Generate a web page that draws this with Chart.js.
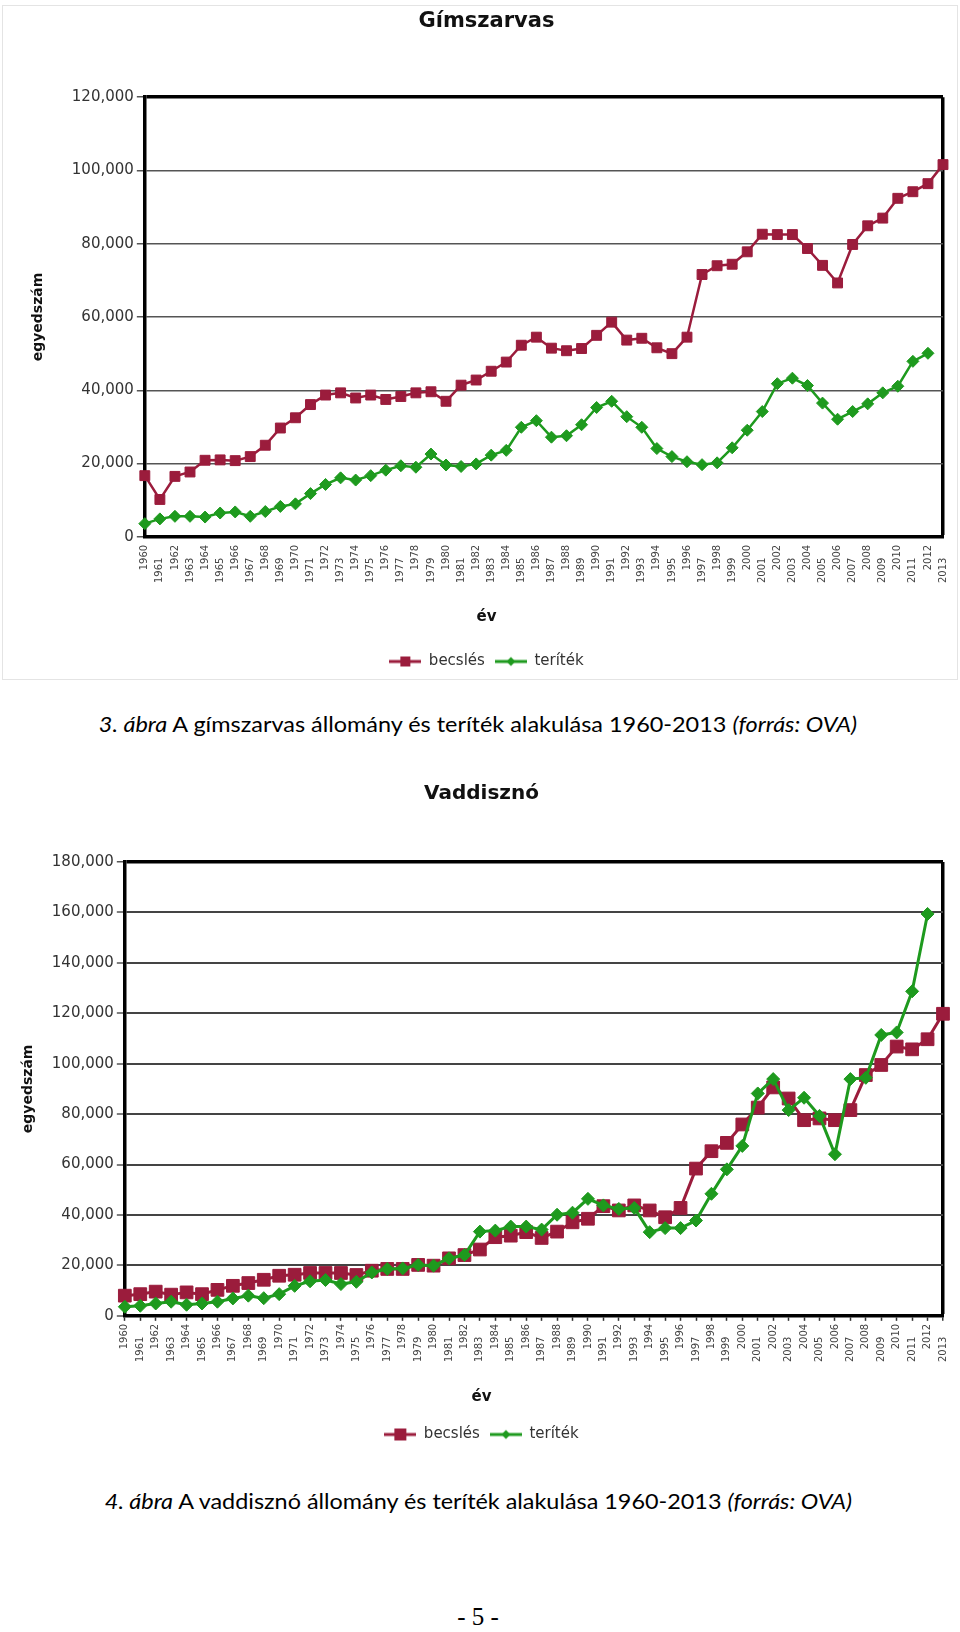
<!DOCTYPE html>
<html lang="hu">
<head>
<meta charset="utf-8">
<title>Gímszarvas és vaddisznó állomány 1960-2013</title>
<script src="https://cdn.jsdelivr.net/npm/chart.js@4.4.1/dist/chart.umd.min.js"></script>
<style>
    html, body {
        margin: 0;
        padding: 0;
        background: #fff;
    }
    body {
        width: 960px;
        height: 1632px;
        position: relative;
        overflow: hidden;
    }
    .frame {
        position: absolute;
        left: 2px;
        top: 5px;
        width: 954px;
        height: 673px;
        border: 1px solid #e4e4e4;
    }
    canvas {
        position: absolute;
    }
    #deerChart { left: 30px; top: 0; }
    #boarChart { left: 20px; top: 760px; }
    .caption {
        position: absolute;
        left: 0;
        width: 956px;
        text-align: center;
        font-family: Lato, "Open Sans", sans-serif;
        font-size: 22px;
        line-height: 30px;
        color: #000;
        white-space: nowrap;
    }
    .caption span {
        display: inline-block;
        transform-origin: center;
    }
    .page-number {
        position: absolute;
        left: 0;
        width: 956px;
        top: 1602px;
        text-align: center;
        font-family: "Liberation Serif", serif;
        font-size: 25px;
        line-height: 30px;
    }
</style>
</head>
<body>
<div class="frame"></div>
<canvas id="deerChart" width="930" height="679"></canvas>
<div class="caption" style="top: 709px;"><span id="caption1"><i>3. ábra</i> A gímszarvas állomány és teríték alakulása 1960-2013 <i>(forrás: OVA)</i></span></div>

<canvas id="boarChart" width="966" height="692"></canvas>
<div class="caption" style="top: 1486px;"><span id="caption2"><i>4. ábra</i> A vaddisznó állomány és teríték alakulása 1960-2013 <i>(forrás: OVA)</i></span></div>

<div class="page-number">- 5 -</div>

<script>
// ===== Data =====
const years = [
    '1960', '1961', '1962', '1963', '1964', '1965', '1966', '1967', '1968', '1969',
    '1970', '1971', '1972', '1973', '1974', '1975', '1976', '1977', '1978', '1979',
    '1980', '1981', '1982', '1983', '1984', '1985', '1986', '1987', '1988', '1989',
    '1990', '1991', '1992', '1993', '1994', '1995', '1996', '1997', '1998', '1999',
    '2000', '2001', '2002', '2003', '2004', '2005', '2006', '2007', '2008', '2009',
    '2010', '2011', '2012', '2013'
];

// Gímszarvas
const deerEstimate = [
    16700, 10200, 16500, 17700, 20900, 21000, 20800, 21900, 25000, 29700,
    32500, 36100, 38700, 39300, 37900, 38700, 37500, 38300, 39300, 39600,
    37000, 41400, 42800, 45200, 47700, 52300, 54500, 51500, 50800, 51400,
    55000, 58600, 53700, 54200, 51600, 50000, 54500, 71600, 74000, 74400,
    77800, 82600, 82500, 82500, 78700, 74100, 69300, 79800, 84900, 87000,
    92400, 94200, 96400, 101600
];
const deerHarvest = [
    3600, 4900, 5600, 5600, 5400, 6500, 6800, 5600, 6900, 8300,
    9000, 11800, 14300, 16100, 15500, 16700, 18200, 19400, 19000, 22600,
    19600, 19200, 19900, 22300, 23600, 29900, 31700, 27200, 27600, 30600,
    35300, 37000, 32800, 29900, 24100, 21900, 20500, 19700, 20200, 24300,
    29100, 34200, 41800, 43300, 41300, 36500, 32100, 34200, 36300, 39300,
    41100, 47900, 50100, null
];

// Vaddisznó
const boarEstimate = [
    8000, 8600, 9600, 8400, 9300, 8600, 10300, 11900, 13000, 14300,
    15900, 16300, 17000, 17000, 17000, 16200, 17900, 18600, 18600, 20200,
    19900, 22800, 24100, 26300, 31200, 31800, 33200, 30900, 33400, 37100,
    38500, 43500, 41800, 43800, 41800, 39100, 42800, 58400, 65300, 68600,
    75900, 82600, 90600, 86200, 77600, 78300, 77600, 81600, 95500, 99500,
    106800, 105700, 109700, 119800
];
const boarHarvest = [
    3600, 4000, 4900, 5600, 4400, 4900, 5600, 6900, 8000, 7000,
    8600, 11900, 13700, 14200, 12600, 13500, 17200, 18600, 18800, 20200,
    19900, 22800, 24100, 33400, 33800, 35400, 35400, 34200, 40100, 40900,
    46400, 43800, 42400, 42800, 33200, 34800, 34800, 37800, 48400, 58100,
    67400, 88200, 93900, 81600, 86500, 79300, 64100, 93900, 94400, 111400,
    112400, 128700, 159400, null
];

const seriesNames = ['becslés', 'teríték'];

// ===== Styles =====
const MAROON = '#9b1c3c';
const GREEN = '#1e9a1e';

Chart.defaults.font.family = '"DejaVu Sans", Arial, sans-serif';
Chart.defaults.color = '#333';

// Small line + marker pictures for the legend
function makeLegendIcon(color, shape, size) {
    const c = document.createElement('canvas');
    c.width = 32;
    c.height = 14;
    const g = c.getContext('2d');
    g.strokeStyle = color;
    g.lineWidth = 3;
    g.beginPath();
    g.moveTo(0, 7);
    g.lineTo(32, 7);
    g.stroke();
    g.fillStyle = color;
    if (shape === 'rect') {
        g.fillRect(16 - size / 2, 7 - size / 2, size, size);
    } else {
        g.beginPath();
        g.moveTo(16, 7 - size / 2);
        g.lineTo(16 + size / 2, 7);
        g.lineTo(16, 7 + size / 2);
        g.lineTo(16 - size / 2, 7);
        g.closePath();
        g.fill();
    }
    return c;
}

// Odd years sit lower, like the staggered labels of the original
function staggerLabel(value, index) {
    const label = this.getLabelForValue(value);
    return index % 2 ? label + '    ' : label;
}

function formatThousands(value) {
    return value.toLocaleString('en-US');
}

function buildChart(canvasId, opts) {
    const last = years.length - 1;
    const icons = [
        makeLegendIcon(MAROON, 'rect', opts.legendSquare),
        makeLegendIcon(GREEN, 'diamond', opts.legendDiamond)
    ];

    return new Chart(document.getElementById(canvasId), {
        type: 'line',
        data: {
            labels: years,
            datasets: [{
                label: seriesNames[0],
                data: opts.estimate,
                borderColor: MAROON,
                backgroundColor: MAROON,
                borderWidth: opts.lineWidth,
                pointStyle: 'rect',
                pointRadius: opts.squareRadius,
                pointBorderWidth: 1,
                pointBorderColor: MAROON,
                pointBackgroundColor: MAROON,
                tension: 0,
                clip: false,
                order: 1
            }, {
                label: seriesNames[1],
                data: opts.harvest,
                borderColor: GREEN,
                backgroundColor: GREEN,
                borderWidth: opts.lineWidth,
                pointStyle: 'rectRot',
                pointRadius: opts.diamondRadius,
                pointBorderWidth: 1,
                pointBorderColor: GREEN,
                pointBackgroundColor: GREEN,
                tension: 0,
                clip: false,
                spanGaps: false,
                order: 0
            }]
        },
        options: {
            responsive: false,
            animation: false,
            events: [],
            layout: {
                padding: { left: 0, right: opts.padRight, top: 0, bottom: 0 }
            },
            plugins: {
                title: {
                    display: true,
                    text: opts.title,
                    color: '#111',
                    font: { size: opts.titleSize, weight: 'bold' },
                    padding: opts.titlePadding
                },
                subtitle: {
                    display: true,
                    position: 'bottom',
                    text: 'év',
                    weight: 500,
                    color: '#111',
                    font: { size: 15, weight: 'bold' },
                    padding: opts.xTitlePadding
                },
                legend: {
                    position: 'bottom',
                    labels: {
                        usePointStyle: true,
                        pointStyleWidth: 32,
                        color: '#333',
                        font: { size: 15 },
                        padding: 10,
                        sort: (a, b) => a.datasetIndex - b.datasetIndex,
                        generateLabels: chart => {
                            const items = Chart.defaults.plugins.legend.labels.generateLabels(chart);
                            items.forEach(item => { item.pointStyle = icons[item.datasetIndex]; });
                            return items;
                        }
                    }
                },
                tooltip: { enabled: false }
            },
            scales: {
                x: {
                    offset: false,
                    border: { color: '#000', width: 3.5 },
                    grid: {
                        color: ctx => ctx.index === last ? '#000' : 'rgba(0,0,0,0)',
                        lineWidth: ctx => ctx.index === last ? 3.5 : 1,
                        tickLength: 5,
                        tickColor: opts.xTickColor,
                        tickWidth: 1.5
                    },
                    ticks: {
                        autoSkip: false,
                        maxRotation: 90,
                        minRotation: 90,
                        padding: 3,
                        color: '#444',
                        font: { size: 10 },
                        callback: staggerLabel
                    }
                },
                y: {
                    min: 0,
                    max: opts.yMax,
                    border: { color: '#000', width: 3.5 },
                    grid: {
                        color: ctx => ctx.tick && ctx.tick.value === opts.yMax ? '#000' : opts.gridColor,
                        lineWidth: ctx => ctx.tick && ctx.tick.value === opts.yMax ? 3.5 : opts.gridWidth,
                        tickLength: 8,
                        tickColor: '#555',
                        tickWidth: 1.5
                    },
                    ticks: {
                        stepSize: 20000,
                        padding: 3,
                        color: '#333',
                        font: { size: 15 },
                        callback: formatThousands
                    },
                    title: {
                        display: true,
                        text: 'egyedszám',
                        color: '#111',
                        font: { size: 14, weight: 'bold' },
                        padding: { top: 0, bottom: opts.yTitleGap }
                    }
                }
            }
        }
    });
}

// ===== Charts =====
buildChart('deerChart', {
    title: 'Gímszarvas',
    titleSize: 21,
    titlePadding: { top: 9, bottom: 63 },
    xTitlePadding: { top: 22, bottom: 18 },
    estimate: deerEstimate,
    harvest: deerHarvest,
    yMax: 120000,
    lineWidth: 2.5,
    squareRadius: 7,
    diamondRadius: 6,
    legendSquare: 10,
    legendDiamond: 9,
    gridColor: '#555',
    gridWidth: 1.5,
    xTickColor: 'rgba(0,0,0,0)',
    yTitleGap: 22,
    padRight: 17
});

buildChart('boarChart', {
    title: 'Vaddisznó',
    titleSize: 20,
    titlePadding: { top: 22, bottom: 56 },
    xTitlePadding: { top: 23, bottom: 11 },
    estimate: boarEstimate,
    harvest: boarHarvest,
    yMax: 180000,
    lineWidth: 3,
    squareRadius: 9,
    diamondRadius: 6.5,
    legendSquare: 12,
    legendDiamond: 9,
    gridColor: '#444',
    gridWidth: 2,
    xTickColor: '#333',
    yTitleGap: 12,
    padRight: 43
});

// ===== Captions =====
function fitCaption(id, targetWidth) {
    const span = document.getElementById(id);
    const width = span.getBoundingClientRect().width;
    if (width > 0) {
        span.style.transform = `scaleX(${(targetWidth / width).toFixed(3)})`;
    }
}

fitCaption('caption1', 758);
fitCaption('caption2', 747);
</script>
</body>
</html>
